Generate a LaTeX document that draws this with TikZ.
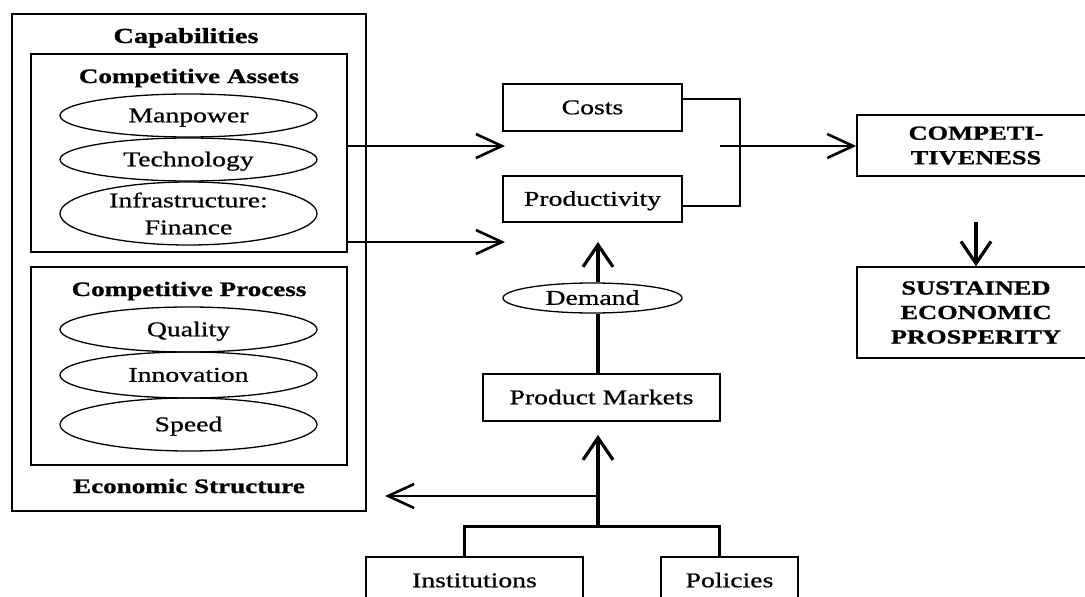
\documentclass[tikz,border=0pt]{standalone}
\usepackage{fontspec}
\setmainfont{Liberation Serif}[FakeStretch=1.32, UprightFeatures={FakeBold=0.8}, BoldFeatures={FakeBold=1.0}]
\usetikzlibrary{arrows.meta,shapes.geometric}
\begin{document}
\begin{tikzpicture}[x=1pt,y=-1pt,
  font=\fontsize{21}{25}\selectfont,
  frame/.style={draw, rectangle, line width=1.5pt, inner sep=0pt},
  box/.style={draw, rectangle, line width=1.5pt, inner sep=0pt, text height=13.5pt, text depth=0pt},
  bigbox/.style={draw, rectangle, line width=1.5pt, inner sep=0pt, align=center,
     font=\fontsize{20}{24.5}\selectfont\bfseries},
  oval/.style={draw, ellipse, line width=1.3pt, inner sep=0pt, minimum width=257pt},
  one/.style={text height=13.5pt, text depth=0pt},
  title/.style={anchor=base, font=\fontsize{20.5}{24}\selectfont\bfseries},
  harrow/.style={line width=2.6pt, -{Straight Barb[length=26pt,width=24pt]}},
  varrow/.style={line width=3.2pt, -{Straight Barb[length=22pt,width=30pt]}},
  thickline/.style={line width=3pt},
  thinline/.style={line width=1.5pt}]
\useasboundingbox (0,0) rectangle (1085,597);

% left block
\node[frame, minimum width=354pt, minimum height=497pt] (cap) at (189,262.5) {};
\node[frame, minimum width=316pt, minimum height=198pt] (assets) at (189,153) {};
\node[frame, minimum width=316pt, minimum height=198pt] (proc) at (189,366) {};
\node[title, font=\fontsize{21.5}{24}\selectfont\bfseries] (capt) at (186,43) {Capabilities};
\node[title] (asst) at (189,83) {Competitive Assets};
\node[title] (proct) at (189,296) {Competitive Process};
\node[title] (ecot) at (189,493) {Economic Structure};

\node[oval, one, minimum height=43pt] (man) at (188.5,115.5) {Manpower};
\node[oval, one, minimum height=43pt] (tech) at (188.5,159.5) {Technology};
\node[oval, minimum height=63pt, align=center, font=\fontsize{21}{27}\selectfont] (infra) at (188.5,213.5) {Infrastructure:\\Finance};
\node[oval, one, minimum height=45pt] (qual) at (188.5,329.5) {Quality};
\node[oval, one, minimum height=46pt] (innov) at (188.5,375) {Innovation};
\node[oval, one, minimum height=53pt] (speed) at (188.5,424.5) {Speed};

% middle
\node[box, minimum width=179pt, minimum height=47pt] (costs) at (592.5,107.5) {Costs};
\node[box, minimum width=179pt, minimum height=46pt] (prodv) at (592.5,199) {Productivity};
\node[oval, one, minimum width=179pt, minimum height=30pt] (dem) at (592.5,298) {Demand};
\node[box, minimum width=237pt, minimum height=47pt] (pm) at (601.5,397.5) {Product Markets};
\node[box, minimum width=217pt, minimum height=47pt] (inst) at (474.5,580.5) {Institutions};
\node[box, minimum width=137pt, minimum height=47pt] (pol) at (729.5,580.5) {Policies};

% right
\node[bigbox, minimum width=238pt, minimum height=61pt] (comp) at (976,145.5) {COMPETI-\\TIVENESS};
\node[bigbox, minimum width=238pt, minimum height=91pt] (sust) at (976,312.5) {SUSTAINED\\ECONOMIC\\PROSPERITY};

% coordinates
\coordinate (a1) at (505,146);
\coordinate (a2) at (505,242);
\coordinate (b1) at (740,99);
\coordinate (b2) at (740,206);
\coordinate (o1) at (720,146);
\coordinate (d1) at (976,222);
\coordinate (u1) at (598,242);
\coordinate (u2) at (598,435);
\coordinate (j) at (598,526);
\coordinate (l1) at (385,496);
\coordinate (k1) at (464,526);
\coordinate (k2) at (719,526);

% connectors
\draw[harrow] (assets.east |- a1) -- (a1);
\draw[harrow] (assets.east |- a2) -- (a2);
\draw[thinline] (costs.east |- b1) -- (b1) -- (b2) -- (prodv.east |- b2);
\draw[harrow] (o1) -- (comp.west |- o1);
\draw[varrow] (d1) -- (sust.north);
\draw[varrow] (dem.north -| u1) -- (u1);
\draw[line width=3.2pt] (pm.north -| u1) -- (dem.south -| u1);
\draw[varrow] (j) -- (u2);
\draw[harrow] (j |- l1) -- (l1);
\draw[thickline] (inst.north -| k1) -- (k1) -- (k2) -- (pol.north -| k2);
\end{tikzpicture}
\end{document}
